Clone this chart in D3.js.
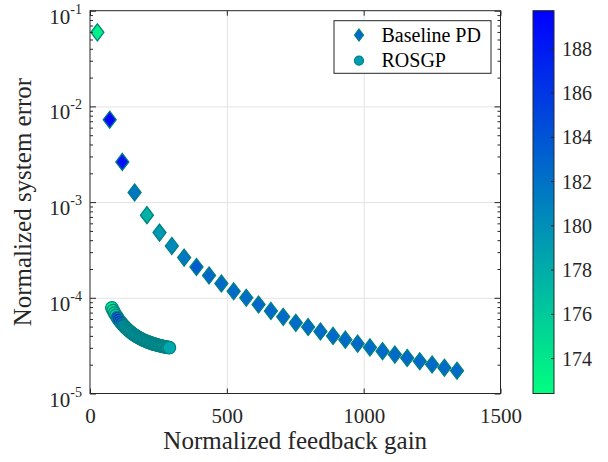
<!DOCTYPE html>
<html lang="en">

<head>
    <meta charset="UTF-8">
    <script src="https://d3js.org/d3.v7.min.js"></script>
    <title>Normalized system error</title>
    <style>
        body {
            margin: 0;
            padding: 0;
            background: #fff;
        }

        svg {
            display: block;
            font-family: "Liberation Serif", "Times New Roman", serif;
        }

        .axis path {
            display: none;
        }

        .axis line {
            stroke: #262626;
        }

        .grid line {
            stroke: #e3e3e3;
        }

        .grid path {
            display: none;
        }

        .axis text {
            fill: #262626;
            font-family: "Liberation Serif", "Times New Roman", serif;
            font-size: 20px;
        }
    </style>
</head>

<body>
</body>
<script>

    // Baseline PD (diamonds)
    var pdGain = [27, 72, 118, 163, 208, 254, 299, 344, 389, 435, 480, 525, 571, 616, 661,
        706, 752, 797, 842, 888, 933, 978, 1023, 1069, 1114, 1159, 1205, 1250, 1295, 1341]
    var pdError = [0.0594, 0.00726, 0.00263, 0.00126, 0.00073, 0.00048, 0.000348, 0.000263,
        0.00021, 0.000171, 0.000141, 0.000117, 0.0001, 8.5e-5, 7.3e-5,
        6.33e-5, 5.47e-5, 4.95e-5, 4.45e-5, 4.0e-5, 3.65e-5, 3.32e-5, 3.03e-5,
        2.77e-5, 2.55e-5, 2.35e-5, 2.17e-5, 2.01e-5, 1.86e-5, 1.73e-5]
    var pdTemp = [173.3, 189.2, 188.5, 181.8, 177.6, 179.3, 180.4, 181.6, 183.6, 182.8, 182.5, 182.6,
        182.4, 182.7, 182.5, 182.6, 182.4, 182.6, 182.5, 182.7, 182.5, 182.6, 182.4, 182.6,
        182.5, 182.6, 182.5, 182.6, 182.5, 182.6]

    // ROSGP (circles)
    var rosgpGain = [80, 85, 90, 95, 100, 105, 110, 115, 120, 125, 130, 135, 140, 145, 150,
        155, 160, 165, 170, 175, 180, 185, 190, 195, 200, 205, 210, 215, 220, 225,
        230, 235, 240, 245, 250, 255, 260, 265, 270, 275, 280, 285, 290]
    var rosgpError = [7.85e-5, 7.35e-5, 6.92e-5, 6.55e-5, 6.22e-5, 5.93e-5, 5.67e-5, 5.45e-5,
        5.25e-5, 5.06e-5, 4.89e-5, 4.73e-5, 4.59e-5, 4.46e-5, 4.34e-5, 4.23e-5, 4.13e-5,
        4.04e-5, 3.96e-5, 3.88e-5, 3.81e-5, 3.74e-5, 3.68e-5, 3.62e-5, 3.57e-5, 3.52e-5,
        3.47e-5, 3.43e-5, 3.39e-5, 3.35e-5, 3.31e-5, 3.28e-5, 3.25e-5, 3.22e-5, 3.19e-5,
        3.16e-5, 3.14e-5, 3.11e-5, 3.09e-5, 3.07e-5, 3.05e-5, 3.03e-5, 3.01e-5]
    var rosgpTemp = [173.5, 174, 174.6, 175.5, 186, 187.5, 188, 187, 185, 180.2, 179.4, 179.3,
        179.3, 179.2, 179.3, 179.2, 179.3, 179.2, 179.3, 179.2, 179.2, 179.1, 179.2, 179.1,
        179.1, 179.1, 179, 179, 179, 179, 178.9, 178.9, 178.9, 178.8, 178.8, 178.8, 178.7,
        178.7, 178.7, 178.6, 178.6, 178.5, 178.4]

    var xTicks = [0, 500, 1000, 1500]
    var yTickExp = [-1, -2, -3, -4, -5]
    var cbTicks = [174, 176, 178, 180, 182, 184, 186, 188]
    var cbRange = [172.4, 189.7]
    var legendLabels = ['Baseline PD', 'ROSGP']

    var W = 608, H = 462
    var pL = 90, pR = 500.5, pT = 10.7, pB = 393.5
    var edge = '#008080'

    var svg = d3.select('body').append('svg')
        .attr('width', W)
        .attr('height', H)

    var x = d3.scaleLinear().domain([0, 1500]).range([pL, pR])
    var y = d3.scaleLog().domain([1e-5, 1e-1]).range([pB, pT])
    var color = d3.scaleLinear().domain(cbRange).range(['#00ff80', '#0000ff'])
    var cy = d3.scaleLinear().domain(cbRange).range([pB, pT])

    var majors = yTickExp.map(function (e) { return Math.pow(10, e) })
    var minors = []
    majors.forEach(function (m) {
        if (m >= 1e-1) return
        for (var k = 2; k <= 9; k++) minors.push(m * k)
    })

    function drawGrid() {
        svg.append('g').attr('class', 'grid')
            .attr('transform', 'translate(0,' + pB + ')')
            .call(d3.axisBottom(x).tickValues(xTicks.slice(1, -1)).tickSize(-(pB - pT)).tickFormat(''))
        svg.append('g').attr('class', 'grid')
            .attr('transform', 'translate(' + pL + ',0)')
            .call(d3.axisLeft(y).tickValues(majors.slice(1, -1)).tickSize(-(pR - pL)).tickFormat(''))
    }

    function drawAxes() {
        var gx = svg.append('g').attr('class', 'axis')
            .attr('transform', 'translate(0,' + pB + ')')
            .call(d3.axisBottom(x).tickValues(xTicks).tickSize(-5).tickFormat(d3.format('d')))
        gx.selectAll('text').attr('y', 29).attr('dy', 0).style('font-size', '21px')

        svg.append('g').attr('class', 'axis')
            .attr('transform', 'translate(0,' + pT + ')')
            .call(d3.axisTop(x).tickValues(xTicks).tickSize(-5).tickFormat(''))

        var gy = svg.append('g').attr('class', 'axis')
            .attr('transform', 'translate(' + pL + ',0)')
            .call(d3.axisLeft(y).tickValues(majors).tickSize(-6).tickFormat(''))
        svg.append('g').attr('class', 'axis')
            .attr('transform', 'translate(' + pL + ',0)')
            .call(d3.axisLeft(y).tickValues(minors).tickSize(-3).tickFormat(''))
        svg.append('g').attr('class', 'axis')
            .attr('transform', 'translate(' + pR + ',0)')
            .call(d3.axisRight(y).tickValues(majors).tickSize(-6).tickFormat(''))
        svg.append('g').attr('class', 'axis')
            .attr('transform', 'translate(' + pR + ',0)')
            .call(d3.axisRight(y).tickValues(minors).tickSize(-3).tickFormat(''))

        // 10^n labels
        gy.selectAll('.tick text').remove()
        gy.selectAll('.tick').append('text')
            .attr('x', -8)
            .attr('y', 12.5)
            .attr('text-anchor', 'end')
            .style('font-size', '21px')
            .each(function (d, i) {
                var t = d3.select(this)
                t.append('tspan').text('10')
                t.append('tspan').attr('dy', -10).attr('font-size', 14)
                    .text(String(yTickExp[i]))
            })

        svg.append('rect')
            .attr('x', pL).attr('y', pT)
            .attr('width', pR - pL).attr('height', pB - pT)
            .attr('fill', 'none').attr('stroke', '#262626').attr('stroke-width', 1)

        svg.append('text')
            .attr('x', (pL + pR) / 2).attr('y', 449)
            .attr('text-anchor', 'middle')
            .attr('font-size', 25).attr('fill', '#262626')
            .text('Normalized feedback gain')
        svg.append('text')
            .attr('transform', 'translate(31,' + (pT + pB) / 2 + ') rotate(-90)')
            .attr('text-anchor', 'middle')
            .attr('font-size', 25).attr('fill', '#262626')
            .text('Normalized system error')
    }

    function diamond(w, h) {
        return 'M0,' + (-h) + 'L' + w + ',0L0,' + h + 'L' + (-w) + ',0Z'
    }

    function drawPoints() {
        var pd = pdGain.map(function (g, i) { return { x: g, y: pdError[i], t: pdTemp[i] } })
        var ro = rosgpGain.map(function (g, i) { return { x: g, y: rosgpError[i], t: rosgpTemp[i] } })

        svg.append('g').selectAll('path')
            .data(pd)
            .enter()
            .append('path')
            .attr('d', diamond(6.5, 8.5))
            .attr('transform', function (d) { return 'translate(' + x(d.x) + ',' + y(d.y) + ')' })
            .attr('fill', function (d) { return color(d.t) })
            .attr('stroke', edge)
            .attr('stroke-width', 1.3)

        svg.append('g').selectAll('circle')
            .data(ro)
            .enter()
            .append('circle')
            .attr('cx', function (d) { return x(d.x) })
            .attr('cy', function (d) { return y(d.y) })
            .attr('r', 6.3)
            .attr('fill', function (d) { return color(d.t) })
            .attr('stroke', edge)
            .attr('stroke-width', 1.2)
    }

    function drawLegend() {
        var g = svg.append('g')
        g.append('rect')
            .attr('x', 334).attr('y', 20.7).attr('width', 157).attr('height', 52.6)
            .attr('fill', '#fff').attr('stroke', '#262626').attr('stroke-width', 1)
        g.append('path')
            .attr('d', diamond(4.5, 6))
            .attr('transform', 'translate(359,35)')
            .attr('fill', color(182.6)).attr('stroke', edge).attr('stroke-width', 1.2)
        g.append('circle')
            .attr('cx', 359).attr('cy', 60.7).attr('r', 4.5)
            .attr('fill', color(179.1)).attr('stroke', edge).attr('stroke-width', 1.2)
        g.selectAll('text.lg')
            .data(legendLabels)
            .enter()
            .append('text')
            .attr('class', 'lg')
            .attr('x', 381.5)
            .attr('y', function (d, i) { return 41.5 + i * 25.7 })
            .attr('font-size', 20).attr('fill', '#000')
            .text(function (d) { return d })
    }

    function drawColorbar() {
        var cbL = 533, cbR = 554
        var grad = svg.append('defs').append('linearGradient')
            .attr('id', 'winter')
            .attr('x1', 0).attr('y1', 1).attr('x2', 0).attr('y2', 0)
        grad.append('stop').attr('offset', 0).attr('stop-color', color(cbRange[0]))
        grad.append('stop').attr('offset', 1).attr('stop-color', color(cbRange[1]))

        svg.append('rect')
            .attr('x', cbL).attr('y', pT)
            .attr('width', cbR - cbL).attr('height', pB - pT)
            .attr('fill', 'url(#winter)')
            .attr('stroke', '#262626').attr('stroke-width', 1)

        var ga = svg.append('g').attr('class', 'axis')
            .attr('transform', 'translate(' + cbR + ',0)')
            .call(d3.axisRight(cy).tickValues(cbTicks).tickSize(-3).tickPadding(8))
        ga.selectAll('text').attr('dy', '0.35em')
    }

    drawGrid()
    drawPoints()
    drawAxes()
    drawLegend()
    drawColorbar()

</script>

</html>
